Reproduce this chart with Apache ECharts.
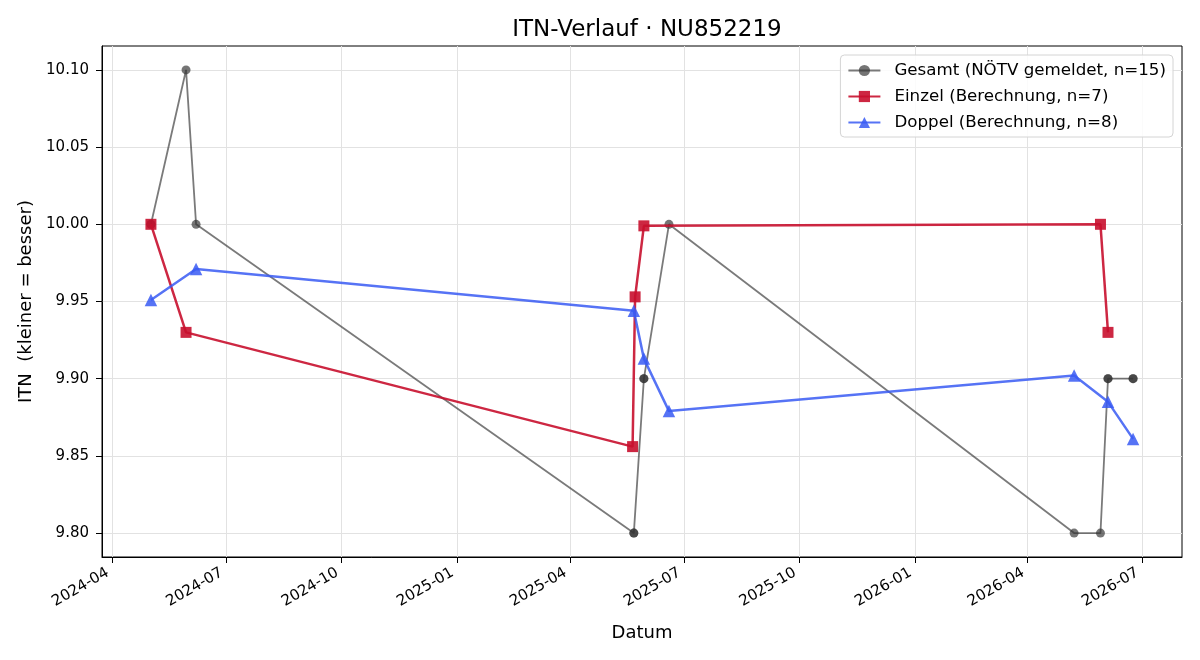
<!DOCTYPE html>
<html>
<head>
<meta charset="utf-8">
<title>ITN-Verlauf</title>
<script src="https://cdn.jsdelivr.net/npm/echarts@6/dist/echarts.min.js"></script>
<style>
  html, body { margin: 0; padding: 0; background: #fff; }
  #chart { width: 1200px; height: 660px; }
</style>
</head>
<body>
<div id="chart"></div>
<script>
// Gesamt (NÖTV gemeldet) - duplicates overlap on the same spot
const gesamtDates = [
  "2024-05-02", "2024-05-02", "2024-05-30", "2024-06-07",
  "2025-05-22", "2025-05-22", "2025-05-30", "2025-05-30", "2025-06-19",
  "2026-05-08", "2026-05-29", "2026-06-04", "2026-06-04", "2026-06-24", "2026-06-24"
];
const gesamtValues = [
  10.00, 10.00, 10.10, 10.00,
  9.80, 9.80, 9.90, 9.90, 10.00,
  9.80, 9.80, 9.90, 9.90, 9.90, 9.90
];

// Einzel (Berechnung)
const einzelDates = ["2024-05-02", "2024-05-30", "2025-05-21", "2025-05-23", "2025-05-30", "2026-05-29", "2026-06-04"];
const einzelValues = [10.00, 9.930, 9.856, 9.953, 9.999, 10.000, 9.930];

// Doppel (Berechnung)
const doppelDates = ["2024-05-02", "2024-06-07", "2025-05-22", "2025-05-30", "2025-06-19", "2026-05-08", "2026-06-04", "2026-06-24"];
const doppelValues = [9.951, 9.971, 9.944, 9.913, 9.879, 9.902, 9.885, 9.861];

const xTicks = ["2024-04-01", "2024-07-01", "2024-10-01", "2025-01-01", "2025-04-01",
  "2025-07-01", "2025-10-01", "2026-01-01", "2026-04-01", "2026-07-01"];
const yTicks = [9.80, 9.85, 9.90, 9.95, 10.00, 10.05, 10.10];

// dates -> UTC timestamps, the x axis is a numeric value axis in ms
const ts = (s) => Date.parse(s);
const zip = (dates, vals) => dates.map((d, i) => [ts(d), vals[i]]);
const xTickTs = xTicks.map(ts);
const font = "DejaVu Sans";

const chart = echarts.init(document.getElementById("chart"), null, { renderer: "canvas" });

const option = {
  animation: false,
  backgroundColor: "#fff",
  textStyle: { fontFamily: font },
  title: {
    text: "ITN-Verlauf · NU852219",
    left: 642, // centred over the plot area, not the page
    textAlign: "center",
    top: 14,
    textStyle: { fontFamily: font, fontSize: 23, fontWeight: "normal", color: "#000" },
  },
  grid: {
    left: 102,
    right: 18,
    top: 46,
    bottom: 103,
    show: true,
    borderColor: "#000",
    borderWidth: 1,
    backgroundColor: "transparent",
  },
  legend: {
    orient: "vertical",
    right: 27,
    top: 55,
    align: "left",
    itemWidth: 32,
    itemHeight: 14,
    itemGap: 9,
    padding: [7, 7, 6, 7],
    backgroundColor: "rgba(255,255,255,0.85)",
    borderColor: "#d4d4d4",
    borderWidth: 1,
    borderRadius: 4,
    textStyle: { fontFamily: font, fontSize: 16.7, color: "#000", padding: [0, 0, 0, 9] },
  },
  xAxis: {
    type: "value",
    min: ts("2024-03-24"),
    max: ts("2026-08-02"),
    name: "Datum",
    nameLocation: "middle",
    nameGap: 67,
    nameTextStyle: { fontFamily: font, fontSize: 18, color: "#000" },
    axisLine: { show: true, onZero: false, lineStyle: { color: "#000", width: 1 } },
    axisTick: { show: true, customValues: xTickTs, length: 6, lineStyle: { color: "#000" } },
    axisLabel: {
      customValues: xTickTs,
      rotate: 30,
      margin: 12,
      padding: [0, 5, 0, 0],
      fontFamily: font,
      fontSize: 15,
      color: "#000",
      formatter: (v) => {
        const d = new Date(v);
        return d.getUTCFullYear() + "-" + String(d.getUTCMonth() + 1).padStart(2, "0");
      },
    },
    splitLine: { show: true, lineStyle: { color: "#e2e2e2", width: 1 } },
  },
  yAxis: {
    type: "value",
    min: 9.7845,
    max: 10.1155,
    name: "ITN  (kleiner = besser)",
    nameLocation: "middle",
    nameGap: 66,
    nameTextStyle: { fontFamily: font, fontSize: 18, color: "#000" },
    axisLine: { show: true, onZero: false, lineStyle: { color: "#000", width: 1 } },
    axisTick: { show: true, customValues: yTicks, length: 6, lineStyle: { color: "#000" } },
    axisLabel: {
      customValues: yTicks,
      margin: 13,
      fontFamily: font,
      fontSize: 15,
      color: "#000",
      formatter: (v) => v.toFixed(2),
    },
    splitLine: { show: true, lineStyle: { color: "#e2e2e2", width: 1 } },
  },
  series: [
    {
      name: "Gesamt (NÖTV gemeldet, n=15)",
      type: "line",
      data: zip(gesamtDates, gesamtValues),
      symbol: "circle",
      symbolSize: 9,
      showAllSymbol: true,
      lineStyle: { color: "#333", width: 1.8, opacity: 0.65 },
      itemStyle: { color: "#333", opacity: 0.68 },
      z: 2,
    },
    {
      name: "Einzel (Berechnung, n=7)",
      type: "line",
      data: zip(einzelDates, einzelValues),
      symbol: "rect",
      symbolSize: 11,
      showAllSymbol: true,
      lineStyle: { color: "#c8102e", width: 2.5, opacity: 0.9 },
      itemStyle: { color: "#c8102e", opacity: 0.9 },
      z: 3,
    },
    {
      name: "Doppel (Berechnung, n=8)",
      type: "line",
      data: zip(doppelDates, doppelValues),
      symbol: "triangle",
      symbolSize: 12.5,
      showAllSymbol: true,
      lineStyle: { color: "#385bf3", width: 2.5, opacity: 0.85 },
      itemStyle: { color: "#385bf3", opacity: 0.85 },
      z: 4,
    },
  ],
};

chart.setOption(option);
</script>
</body>
</html>
